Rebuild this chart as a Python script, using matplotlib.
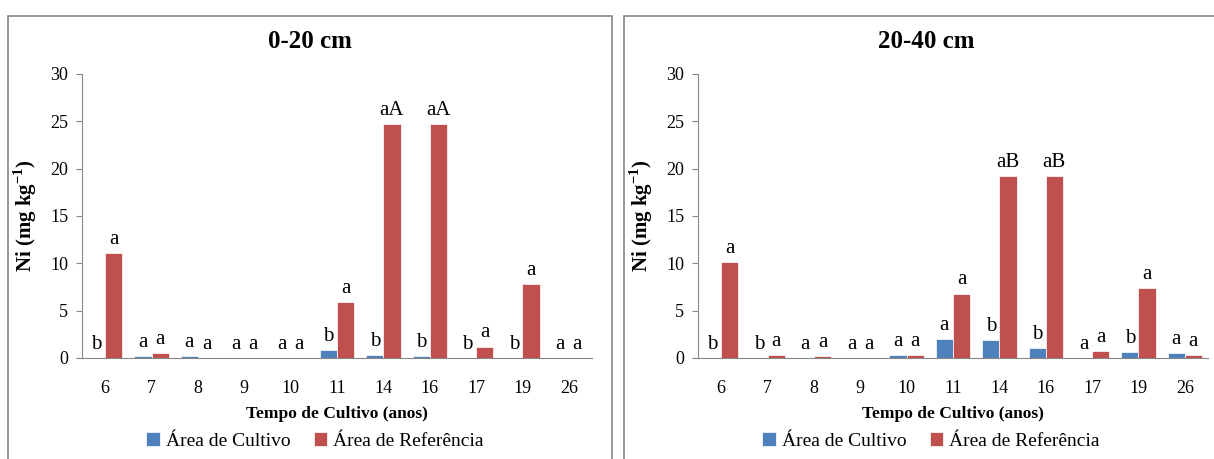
import matplotlib.pyplot as plt
from matplotlib.patches import Rectangle
import numpy as np

plt.rcParams['font.family'] = ['Liberation Serif', 'DejaVu Serif']
plt.rcParams['mathtext.fontset'] = 'custom'
plt.rcParams['mathtext.rm'] = 'Liberation Serif'
plt.rcParams['mathtext.bf'] = 'Liberation Serif:bold'

anos = ['6', '7', '8', '9', '10', '11', '14', '16', '17', '19', '26']

# 0-20 cm
cult_020 = [0, 0.2, 0.2, 0, 0, 0.8, 0.35, 0.2, 0, 0, 0]
ref_020 = [11.1, 0.5, 0, 0, 0, 5.9, 24.7, 24.7, 1.2, 7.8, 0]
lab_cult_020 = ['b', 'a', 'a', 'a', 'a', 'b', 'b', 'b', 'b', 'b', 'a']
lab_ref_020 = ['a', 'a', 'a', 'a', 'a', 'a', 'aA', 'aA', 'a', 'a', 'a']

# 20-40 cm
cult_2040 = [0, 0, 0, 0, 0.3, 2.0, 1.85, 1.05, 0, 0.6, 0.5]
ref_2040 = [10.1, 0.3, 0.2, 0, 0.3, 6.8, 19.2, 19.2, 0.75, 7.4, 0.3]
lab_cult_2040 = ['b', 'b', 'a', 'a', 'a', 'a', 'b', 'b', 'a', 'b', 'a']
lab_ref_2040 = ['a', 'a', 'a', 'a', 'a', 'a', 'aB', 'aB', 'a', 'a', 'a']

blue = '#4F81BD'
red = '#C0504D'
grey = '#868686'

fig = plt.figure(figsize=(12.14, 4.59), dpi=100)

# panel frames (Excel chart areas)
fig.patches.append(Rectangle((8 / 1214, -0.05), 604 / 1214, 1 - 16 / 459 + 0.05,
                             transform=fig.transFigure, fill=False,
                             edgecolor=grey, linewidth=1.2))
fig.patches.append(Rectangle((624 / 1214, -0.05), 640 / 1214, 1 - 16 / 459 + 0.05,
                             transform=fig.transFigure, fill=False,
                             edgecolor=grey, linewidth=1.2))

panels = [
    ('0-20 cm', cult_020, ref_020, lab_cult_020, lab_ref_020, 82, 310, 315),
    ('20-40 cm', cult_2040, ref_2040, lab_cult_2040, lab_ref_2040, 698, 926, 931),
]

x = np.arange(len(anos))
w = 0.37

for title, cult, ref, lc, lr, left_px, title_px, leg_px in panels:
    ax = fig.add_axes([left_px / 1214, 1 - 358 / 459, 510 / 1214, 284 / 459])
    b1 = ax.bar(x - w / 2, cult, w, color=blue, edgecolor='white', linewidth=0.5,
                label='Área de Cultivo')
    b2 = ax.bar(x + w / 2, ref, w, color=red, edgecolor='white', linewidth=0.5,
                label='Área de Referência')
    for xi, v, t in zip(x - w / 2, cult, lc):
        ax.annotate(t, (xi, v), xytext=(0, 3), textcoords='offset points',
                    ha='center', va='bottom', fontsize=15)
    for xi, v, t in zip(x + w / 2, ref, lr):
        ax.annotate(t, (xi, v), xytext=(0, 3), textcoords='offset points',
                    ha='center', va='bottom', fontsize=15)

    ax.set_xlim(-0.5, 10.5)
    ax.set_ylim(0, 30)
    ax.set_yticks(range(0, 31, 5))
    ax.set_xticks(x)
    ax.set_xticklabels(anos)
    ax.tick_params(axis='x', length=0, labelsize=13, pad=16)
    ax.tick_params(axis='y', length=4, color=grey, labelsize=13, pad=6)
    for s in ['top', 'right']:
        ax.spines[s].set_visible(False)
    for s in ['left', 'bottom']:
        ax.spines[s].set_color(grey)
    fig.text(title_px / 1214, 1 - 42 / 459, title, fontsize=18, fontweight='bold',
             ha='center', va='center')
    ax.set_ylabel(r'Ni (mg kg$^{\mathbf{-1}}$)', fontsize=15, fontweight='bold', labelpad=8)
    ax.set_xlabel('Tempo de Cultivo (anos)', fontsize=12.5, fontweight='bold', labelpad=6)
    fig.legend(handles=[b1, b2], loc='center', bbox_to_anchor=(leg_px / 1214, 1 - 441 / 459),
               ncol=2, frameon=False, fontsize=14, handlelength=0.7, handleheight=0.7,
               handletextpad=0.3, columnspacing=1.2, borderaxespad=0)

fig.savefig('out.png', dpi=100)
